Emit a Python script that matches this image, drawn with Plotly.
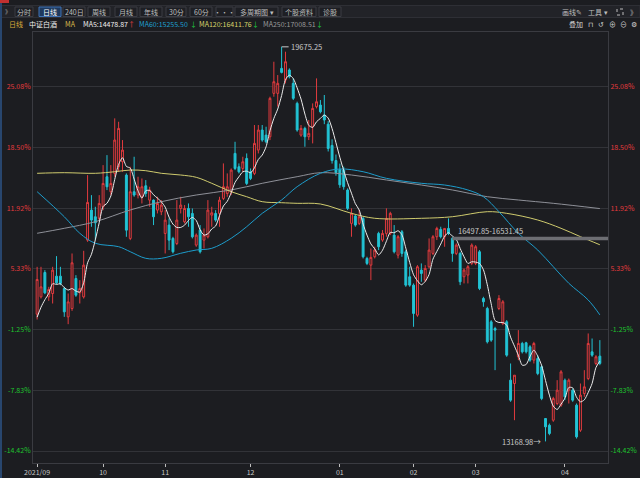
import plotly.graph_objects as go
import pandas as pd

# ---------------- data ----------------
holidays = ["2021-09-20", "2021-09-21", "2021-10-01", "2021-10-04", "2021-10-05", "2021-10-06",
            "2021-10-07", "2022-01-03", "2022-01-31", "2022-02-01", "2022-02-02", "2022-02-03",
            "2022-02-04", "2022-04-04", "2022-04-05"]
dates = [d.strftime("%Y-%m-%d") for d in pd.bdate_range("2021-09-06", "2022-04-18")
         if d.strftime("%Y-%m-%d") not in holidays]

opens = [15267, 15553, 15954, 15553, 15608, 15894, 15894, 15690, 15223, 15360,
         15855, 15619, 15553, 16488, 16983, 16873, 16846, 17038, 17533, 17286,
         17588, 17698, 17780, 17560, 16516, 17286, 17231, 17203, 17384, 17148,
         17148, 16983, 16956, 16598, 16736, 16516, 16433, 17010, 16790, 17010,
         16928, 16406, 16653, 16488, 16543, 16900, 16928, 16928, 17176, 17258,
         17286, 17918, 17698, 17670, 17835, 17615, 17588, 17973, 18303, 18220,
         18193, 18908, 18908, 19320, 19128, 19293, 19073, 18743, 18220, 18330,
         18193, 18358, 18688, 18715, 18550, 18400, 18050, 17800, 17650, 17644,
         17314, 16764, 16885, 16764, 16846, 16186, 16076, 16214, 16599, 16489,
         16599, 16599, 16571, 16241, 16626, 16296, 15884, 15746, 15251, 15994,
         15829, 16049, 16269, 16544, 16665, 16544, 16681, 16516, 16269, 16269,
         15884, 15912, 16104, 16104, 16296, 15526, 15361, 15141, 15031, 15361,
         15114, 15141, 14179, 14124, 14564, 14784, 14795, 14729, 14509, 14536,
         14399, 13547, 13436, 13519, 13794, 13767, 14179, 14014, 14014, 13767,
         13354, 13959, 14206, 14646, 14454, 14575]
highs = [16048, 16048, 15993, 15718, 16048, 16224, 16048, 15718, 15608, 16268,
         15910, 15828, 16312, 17560, 17230, 17038, 17230, 17725, 17890, 17725,
         18496, 18440, 18138, 17588, 17698, 17863, 17533, 17505, 17478, 17368,
         17159, 17203, 17148, 16983, 16846, 16543, 17148, 17203, 17066, 17093,
         17010, 16598, 16736, 16681, 17148, 17038, 16983, 17203, 17753, 17588,
         17670, 18110, 17753, 17863, 17918, 17670, 18386, 18386, 18386, 18358,
         18853, 19430, 19210, 19675.25, 19595, 19320, 19155, 18771, 18386, 18358,
         18468, 18743, 19155, 18798, 18881, 18450, 18150, 17900, 17750, 17700,
         17341, 17012, 16901, 16984, 16874, 16214, 16351, 16379, 16626, 16654,
         17012, 16956, 16736, 16571, 16654, 16324, 16049, 15774, 16076, 16104,
         16076, 16516, 16571, 16709, 16709, 16681, 16846, 16544, 16434, 16296,
         16021, 16076, 16434, 16406, 16324, 15554, 15389, 15169, 15059, 15581,
         15499, 15169, 14454, 14261, 15004, 14811, 14811, 14756, 14811, 14591,
         14426, 13547, 13464, 13904, 14179, 14344, 14206, 14206, 14041, 13794,
         14124, 14344, 14949, 14866, 14591, 14839]
lows = [15179, 15525, 15597, 15487, 15443, 15762, 15745, 15223, 15102, 15322,
        15553, 15443, 15525, 16460, 16708, 16488, 16818, 16983, 17313, 17230,
        17533, 17615, 17615, 16543, 16488, 17203, 17176, 17093, 17203, 17038,
        16736, 16928, 16900, 16268, 16323, 16268, 16406, 16928, 16763, 16708,
        16516, 16378, 16268, 16350, 16516, 16708, 16790, 16708, 17148, 17203,
        17231, 17643, 17588, 17615, 17395, 17478, 17560, 17918, 18110, 18083,
        18138, 18853, 18688, 19238, 19073, 19155, 18798, 18276, 18193, 18028,
        18138, 18083, 18660, 18578, 18400, 17950, 17750, 17550, 17350, 17320,
        16984, 16544, 16709, 16736, 16186, 16076, 15829, 16186, 16324, 16461,
        16544, 16571, 16269, 16186, 16214, 15719, 15719, 15059, 15224, 15801,
        15801, 16021, 16241, 16489, 16516, 16379, 16571, 16131, 16241, 15746,
        15774, 15774, 16076, 16076, 15664, 15389, 14784, 14811, 14344, 15334,
        15086, 14564, 13822, 13519, 14509, 14619, 14619, 14481, 14454, 14261,
        13849, 13168.98, 13271, 13492, 13767, 13739, 13849, 13794, 13822, 13216,
        13326, 13904, 14179, 14564, 14426, 14426]
closes = [15839, 15718, 15619, 15674, 15993, 15784, 15773, 15305, 15470, 16114,
          15580, 15690, 16076, 17110, 16818, 16774, 17093, 17423, 17368, 17423,
          18138, 18330, 17973, 16653, 17286, 17231, 17368, 17368, 17258, 17313,
          16873, 17093, 17066, 16818, 16488, 16296, 16818, 17066, 17010, 16873,
          16543, 16571, 16296, 16571, 16983, 16939, 16818, 17148, 17368, 17368,
          17643, 17670, 17615, 17780, 17423, 17505, 18083, 18303, 18138, 18110,
          18826, 19100, 19073, 19254, 19430, 19183, 18826, 18303, 18330, 18193,
          18248, 18660, 18770, 18605, 18469, 18000, 17800, 17600, 17400, 17369,
          17011, 16929, 16736, 16874, 16214, 16104, 16203, 16324, 16379, 16599,
          16846, 16929, 16296, 16544, 16269, 15746, 15746, 15279, 16049, 15939,
          16021, 16324, 16544, 16681, 16544, 16681, 16599, 16269, 16406, 15801,
          15994, 16049, 16406, 16379, 15691, 15471, 14811, 14839, 15004, 15526,
          15471, 14591, 13849, 14261, 14784, 14646, 14646, 14509, 14784, 14289,
          13877, 13409, 13299, 13877, 14014, 14316, 13904, 14179, 13849, 13244,
          13932, 14069, 14784, 14591, 14564, 14454]
prior_closes = [14900, 15000, 15150, 15200]   # closes before the visible window (for MA5)

ma60_idx = [0, 7, 11, 15, 21, 24, 28, 32, 37, 41, 45, 50, 54, 58, 63, 67, 73, 78, 84, 90,
            99, 105, 111, 115, 119, 124, 129, 133, 137, 142, 145]
ma60_val = [17287, 16874, 16601, 16436, 16380, 16297, 16188, 16188, 16271, 16325, 16353,
            16518, 16709, 16930, 17150, 17369, 17590, 17661, 17616, 17507, 17425, 17397,
            17315, 17204, 16957, 16601, 16325, 16050, 15776, 15501, 15255.50]
ma120_idx = [0, 7, 15, 20, 24, 28, 32, 37, 41, 45, 50, 54, 58, 63, 67, 73, 81, 87, 99, 107,
             116, 121, 129, 135, 140, 145]
ma120_val = [17590, 17600, 17590, 17616, 17644, 17633, 17590, 17562, 17524, 17425, 17287,
             17204, 17122, 17105, 17095, 17084, 16930, 16848, 16848, 16874, 16957, 16930,
             16820, 16683, 16545, 16411.76]
ma250_idx = [0, 7, 15, 24, 32, 41, 50, 58, 67, 73, 81, 90, 99, 107, 116, 124, 133, 145]
ma250_val = [16601, 16683, 16792, 16985, 17122, 17232, 17315, 17425, 17534, 17600, 17562,
             17480, 17397, 17315, 17204, 17150, 17095, 17008.51]

base_price = 15203.0
pct_ticks = [25.08, 18.50, 11.92, 5.33, -1.25, -7.83, -14.42]
month_labels = ["2021/09", "10", "11", "12", "01", "02", "03", "04"]
legend_vals = [14478.87, 15255.50, 16411.76, 17008.51]
high_label = 19675.25
low_label = 13168.98
band_lo, band_hi = 16497.85, 16531.45

# ---------------- styling / layout ----------------
W, H = 640, 478
ML, MR, MT, MB = 33, 32, 32, 15
PW, PH = W - ML - MR, H - MT - MB
BG = "#1c1d21"
UP = "#e23b3e"
DN = "#22c3d4"
FONT = "Noto Sans CJK SC"
FS = 7
YMIN, YMAX = 12813, 19920


def px(x):
    return (x - ML) / PW


def py(y):
    return (H - MB - y) / PH


n = len(closes)
xs = list(range(n))
allc = pd.Series(prior_closes + closes)
ma5 = allc.rolling(5, min_periods=1).mean().tolist()[len(prior_closes):]

fig = go.Figure()
fig.add_trace(go.Candlestick(
    x=xs, open=opens, high=highs, low=lows, close=closes, text=dates,
    increasing=dict(line=dict(color=UP, width=1), fillcolor=BG),
    decreasing=dict(line=dict(color=DN, width=1), fillcolor=DN),
    whiskerwidth=0, hoverinfo="skip", showlegend=False))
fig.add_trace(go.Scatter(x=ma250_idx, y=ma250_val, mode="lines",
                         line=dict(color="#8e9098", width=1, shape="spline"), hoverinfo="skip", showlegend=False))
fig.add_trace(go.Scatter(x=ma120_idx, y=ma120_val, mode="lines",
                         line=dict(color="#cfcb6e", width=1, shape="spline"), hoverinfo="skip", showlegend=False))
fig.add_trace(go.Scatter(x=ma60_idx, y=ma60_val, mode="lines",
                         line=dict(color="#1d9ccb", width=1, shape="spline"), hoverinfo="skip", showlegend=False))
fig.add_trace(go.Scatter(x=xs, y=ma5, mode="lines",
                         line=dict(color="#ececec", width=1, shape="spline", smoothing=0.7), hoverinfo="skip", showlegend=False))
# invisible trace for the right-hand axis
fig.add_trace(go.Scatter(x=[0], y=[YMIN], yaxis="y2", mode="markers", marker=dict(opacity=0),
                         hoverinfo="skip", showlegend=False))

tickvals = [base_price * (1 + p / 100) for p in pct_ticks]
ticktext = ["<span style='color:%s'>%.2f%%</span>" % (UP if p > 0 else "#1fc12f", p) for p in pct_ticks]
month_idx = [i for i in range(n) if i == 0 or dates[i][:7] != dates[i - 1][:7]]

axis_common = dict(range=[YMIN, YMAX], tickvals=tickvals, ticktext=ticktext, ticks="",
                   tickfont=dict(size=FS, family=FONT), zeroline=False, fixedrange=True,
                   automargin=False)
fig.update_layout(
    width=W, height=H, margin=dict(l=ML, r=MR, t=MT, b=MB),
    paper_bgcolor=BG, plot_bgcolor=BG, showlegend=False, hovermode=False,
    font=dict(family=FONT, size=FS, color="#c8c8c8"),
    xaxis=dict(range=[-1.06, 147.1], tickvals=month_idx, ticktext=month_labels,
               showgrid=False, zeroline=False, showline=True, mirror=True, linecolor="#3a3b41",
               ticks="outside", ticklen=3, tickcolor="#bfbfbf",
               tickfont=dict(size=FS, color="#c8c8c8", family=FONT),
               rangeslider=dict(visible=False), fixedrange=True, automargin=False),
    yaxis=dict(showgrid=True, gridcolor="#323338", gridwidth=1, showline=True, linecolor="#3a3b41",
               side="left", **axis_common),
    yaxis2=dict(overlaying="y", side="right", showgrid=False, showline=True, linecolor="#3a3b41",
                **axis_common),
)

shapes = []
annos = []

# price band line
shapes.append(dict(type="rect", xref="x", yref="y", x0=107, x1=147.1, y0=band_lo - 12, y1=band_hi + 12,
                   fillcolor="#6d6e73", line=dict(width=0), layer="above"))
annos.append(dict(x=108, y=16650, xref="x", yref="y", text="%.2f-%.2f" % (band_lo, band_hi),
                  showarrow=False, xanchor="left", yanchor="middle", font=dict(size=FS + 0.5, color="#c9c9c9")))
# high label
annos.append(dict(x=63, y=high_label, xref="x", yref="y", text="%.2f" % high_label, showarrow=True,
                  arrowhead=0, arrowwidth=1, arrowcolor="#c9c9c9", ax=7, ay=0, xanchor="left",
                  standoff=0, font=dict(size=FS + 0.5, color="#c9c9c9")))
# low label
annos.append(dict(x=131, y=low_label, xref="x", yref="y", text="%.2f→" % low_label, showarrow=False,
                  xanchor="right", yanchor="middle", xshift=-3, font=dict(size=FS + 0.5, color="#c9c9c9")))

# ---- toolbar ----
shapes.append(dict(type="rect", xref="paper", yref="paper", x0=px(0), x1=px(W), y0=py(17.5), y1=py(5.5),
                   fillcolor="#222328", line=dict(width=1, color="#2e2f35"), layer="below"))
shapes.append(dict(type="rect", xref="paper", yref="paper", x0=px(0), x1=px(2), y0=py(H), y1=py(0),
                   fillcolor="#28466e", line=dict(width=0), layer="above"))
shapes.append(dict(type="rect", xref="paper", yref="paper", x0=px(0), x1=px(9), y0=py(3), y1=py(0),
                   fillcolor="#c23030", line=dict(width=0), layer="above"))
buttons = [("分时", 15, 33), ("日线", 39, 61), ("240日", 63, 85), ("周线", 88, 110), ("月线", 115, 137),
           ("年线", 140, 162), ("30分", 166, 186), ("60分", 190, 212), ("•••", 216, 233),
           ("多周期图 ▾", 235, 278), ("个股资料", 282, 316), ("诊股", 319, 341)]
for label, a, b in buttons:
    sel = label == "日线"
    shapes.append(dict(type="rect", xref="paper", yref="paper", x0=px(a), x1=px(b), y0=py(16.5), y1=py(7),
                       fillcolor="#1f3a5e" if sel else "#1e1f24",
                       line=dict(width=1, color="#3f72b5" if sel else "#3b3c43"), layer="above"))
    annos.append(dict(x=px((a + b) / 2), y=py(12), xref="paper", yref="paper", text=label, showarrow=False,
                      xanchor="center", yanchor="middle", font=dict(size=FS, color="#ffffff" if sel else "#bdbdbd")))
annos.append(dict(x=px(7.5), y=py(11.5), xref="paper", yref="paper", text="》", showarrow=False,
                  xanchor="center", yanchor="middle", font=dict(size=6, color="#aaaaaa")))
for label, xc in [("画线✎", 572), ("工具 ▾", 598), ("》", 633)]:
    annos.append(dict(x=px(xc), y=py(12), xref="paper", yref="paper", text=label, showarrow=False,
                      xanchor="center", yanchor="middle", font=dict(size=FS, color="#bdbdbd")))
# fullscreen icon
shapes.append(dict(type="rect", xref="paper", yref="paper", x0=px(617), x1=px(623), y0=py(15), y1=py(9),
                   line=dict(width=1, color="#bdbdbd", dash="dot"), layer="above"))
for label, xc in [("叠加", 576), ("⊓", 590), ("↺", 601), ("⊕", 612), ("⊖", 623), ("⚙", 634)]:
    annos.append(dict(x=px(xc), y=py(23.5), xref="paper", yref="paper", text=label, showarrow=False,
                      xanchor="center", yanchor="middle", font=dict(size=FS, color="#d6d6d6")))

legend_items = [("日线", 7, "#d9a93a"), ("中证白酒", 27, "#eeeeee"), ("MA", 63, "#d9b84a"),
                ("MA5:%.2f" % legend_vals[0], 81, "#eeeeee"), ("↑", 126, "#e84040"),
                ("MA60:%.2f" % legend_vals[1], 137, "#1e9fd0"), ("↓", 188, "#20c040"),
                ("MA120:%.2f" % legend_vals[2], 197, "#d6d36a"), ("↓", 250, "#20c040"),
                ("MA250:%.2f" % legend_vals[3], 261, "#9a9a9a"), ("↓", 314, "#20c040")]
for label, xl, col in legend_items:
    annos.append(dict(x=px(xl), y=py(24), xref="paper", yref="paper", text=label, showarrow=False,
                      xanchor="left", yanchor="middle", font=dict(size=FS, color=col)))

fig.update_layout(shapes=shapes, annotations=annos)
fig.write_html("out.html")
